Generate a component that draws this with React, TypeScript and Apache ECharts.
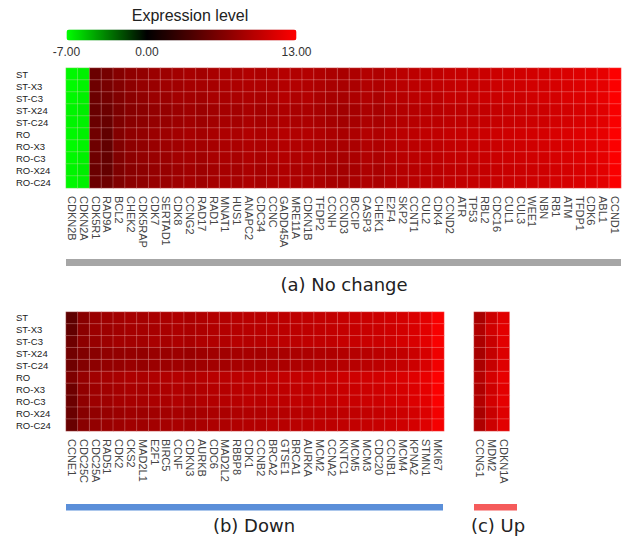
import React, { useEffect, useRef } from "react";
import * as echarts from "echarts";

const rows = ["ST", "ST-X3", "ST-C3", "ST-X24", "ST-C24", "RO", "RO-X3", "RO-C3", "RO-X24", "RO-C24"];

const noChangeGenes = ["CDKN2B", "CDKN2A", "CDK5R1", "RAD9A", "BCL2", "CHEK2", "CDK5RAP", "CDK7", "SERTAD1", "CDK8", "CCNG2", "RAD17", "RAD1", "MNAT1", "HUS1", "ANAPC2", "CDC34", "CCNC", "GADD45A", "MRE11A", "CDKN1B", "TFDP2", "CCNH", "CCND3", "BCCIP", "CASP3", "CHEK1", "E2F4", "SKP2", "CCNT1", "CUL2", "CDK4", "CCND2", "ATR", "TP53", "RBL2", "CDC16", "CUL1", "CUL3", "WEE1", "NBN", "RB1", "ATM", "TFDP1", "CDK6", "ABL1", "CCND1"];

const downGenes = ["CCNE1", "CDC25C", "CDC25A", "RAD51", "CDK2", "CKS2", "MAD2L1", "E2F1", "BIRC5", "CCNF", "CDKN3", "AURKB", "CDC6", "MAD2L2", "RBBP8", "CDK1", "CCNB2", "BRCA2", "GTSE1", "BRCA1", "AURKA", "MCM2", "CCNA2", "KNTC1", "MCM5", "MCM3", "CDC20", "CCNB1", "MCM4", "KPNA2", "STMN1", "MKI67"];

const upGenes = ["CCNG1", "MDM2", "CDKN1A"];

// values per row (ST ... RO-C24), one entry per gene
const noChangeValues = [
  [-6.8, -6.6, 5.4, 6.0, 6.8, 7.3, 7.5, 7.9, 8.0, 8.3, 8.5, 8.3, 8.6, 8.8, 8.7, 9.0, 8.8, 9.0, 9.2, 9.0, 9.1, 8.9, 8.7, 8.6, 8.8, 9.1, 8.9, 9.3, 9.5, 9.6, 9.8, 9.8, 10.0, 10.1, 10.2, 10.3, 10.4, 10.5, 10.6, 10.7, 10.8, 11.0, 11.1, 11.3, 11.5, 11.8, 12.9],
  [-6.9, -6.7, 5.6, 6.1, 6.7, 7.2, 7.6, 7.8, 8.1, 8.2, 8.4, 8.4, 8.5, 8.7, 8.8, 8.9, 8.9, 8.8, 9.1, 9.1, 9.0, 8.8, 8.6, 8.6, 8.7, 9.0, 8.9, 9.2, 9.4, 9.6, 9.7, 9.8, 9.9, 10.1, 10.1, 10.2, 10.4, 10.4, 10.5, 10.7, 10.7, 10.9, 11.0, 11.2, 11.5, 11.7, 12.8],
  [-6.8, -6.6, 5.5, 5.9, 6.6, 7.1, 7.4, 7.9, 7.9, 8.3, 8.3, 8.2, 8.6, 8.6, 8.7, 8.8, 8.7, 8.9, 9.2, 8.9, 9.1, 8.7, 8.5, 8.5, 8.8, 9.0, 8.7, 9.3, 9.3, 9.5, 9.8, 9.6, 10.0, 10.0, 10.2, 10.3, 10.3, 10.5, 10.4, 10.6, 10.8, 10.8, 11.1, 11.2, 11.4, 11.8, 12.9],
  [-6.7, -6.5, 5.3, 5.5, 6.3, 6.9, 7.1, 7.5, 7.6, 7.9, 8.1, 7.9, 8.2, 8.4, 8.3, 8.6, 8.4, 8.6, 8.8, 8.6, 8.7, 8.5, 8.3, 8.2, 8.4, 8.7, 8.5, 8.9, 9.1, 9.2, 9.4, 9.4, 9.6, 9.7, 9.8, 9.9, 10.0, 10.1, 10.2, 10.3, 10.4, 10.6, 10.7, 10.9, 11.1, 11.4, 12.6],
  [-6.7, -6.6, 5.4, 5.3, 6.4, 7.0, 7.2, 7.6, 7.7, 8.0, 8.2, 8.0, 8.3, 8.5, 8.4, 8.7, 8.5, 8.7, 8.9, 8.7, 8.8, 8.6, 8.4, 8.3, 8.5, 8.8, 8.6, 9.0, 9.2, 9.3, 9.5, 9.5, 9.7, 9.8, 9.9, 10.0, 10.1, 10.2, 10.3, 10.4, 10.5, 10.7, 10.8, 11.0, 11.2, 11.5, 12.7],
  [-6.8, -6.6, 5.7, 5.0, 6.7, 7.3, 7.5, 7.9, 8.0, 8.3, 8.5, 8.3, 8.6, 8.8, 8.7, 9.0, 8.8, 9.0, 9.2, 9.0, 9.1, 8.9, 8.7, 8.6, 8.8, 9.1, 8.9, 9.3, 9.5, 9.6, 9.8, 9.8, 10.0, 10.1, 10.2, 10.3, 10.4, 10.5, 10.6, 10.7, 10.8, 11.0, 11.1, 11.3, 11.5, 11.8, 12.9],
  [-6.9, -6.7, 5.6, 5.0, 6.6, 7.2, 7.4, 7.8, 8.0, 8.2, 8.4, 8.3, 8.5, 8.7, 8.7, 8.9, 8.8, 8.9, 9.1, 9.0, 9.0, 8.8, 8.6, 8.6, 8.7, 9.0, 8.9, 9.2, 9.4, 9.5, 9.7, 9.7, 9.9, 10.0, 10.2, 10.2, 10.3, 10.4, 10.5, 10.6, 10.8, 10.9, 11.0, 11.2, 11.4, 11.7, 12.8],
  [-6.8, -6.6, 5.6, 5.1, 6.6, 7.2, 7.5, 7.8, 7.9, 8.3, 8.4, 8.2, 8.6, 8.7, 8.6, 8.9, 8.7, 9.0, 9.1, 8.9, 9.1, 8.8, 8.6, 8.5, 8.7, 9.0, 8.8, 9.2, 9.4, 9.5, 9.7, 9.7, 9.9, 10.0, 10.1, 10.2, 10.3, 10.4, 10.5, 10.6, 10.7, 10.9, 11.0, 11.2, 11.4, 11.7, 12.8],
  [-6.7, -6.5, 5.4, 5.1, 6.4, 7.0, 7.2, 7.6, 7.7, 8.0, 8.2, 8.0, 8.3, 8.5, 8.4, 8.7, 8.5, 8.7, 8.9, 8.7, 8.8, 8.6, 8.4, 8.3, 8.5, 8.8, 8.6, 9.0, 9.2, 9.3, 9.5, 9.5, 9.7, 9.8, 9.9, 10.0, 10.1, 10.2, 10.3, 10.4, 10.5, 10.7, 10.8, 11.0, 11.2, 11.5, 12.7],
  [-6.8, -6.6, 5.5, 5.6, 6.5, 7.1, 7.3, 7.7, 7.8, 8.1, 8.3, 8.1, 8.4, 8.6, 8.5, 8.8, 8.6, 8.8, 9.0, 8.8, 8.9, 8.7, 8.5, 8.4, 8.6, 8.9, 8.7, 9.1, 9.3, 9.4, 9.6, 9.6, 9.8, 9.9, 10.0, 10.1, 10.2, 10.3, 10.4, 10.5, 10.6, 10.8, 10.9, 11.1, 11.3, 11.6, 12.8],
];

const downValues = [
  [4.8, 7.0, 7.8, 8.1, 8.3, 8.5, 8.4, 8.6, 8.7, 8.9, 8.7, 8.9, 9.1, 9.1, 9.3, 9.4, 9.4, 9.6, 9.6, 9.7, 9.8, 9.9, 9.9, 10.1, 10.2, 10.3, 10.4, 10.6, 10.8, 11.1, 11.6, 12.7],
  [5.0, 7.1, 7.9, 8.0, 8.2, 8.4, 8.4, 8.5, 8.6, 8.8, 8.7, 8.8, 9.0, 9.1, 9.2, 9.3, 9.4, 9.5, 9.5, 9.6, 9.7, 9.8, 9.9, 10.0, 10.1, 10.2, 10.3, 10.5, 10.7, 11.0, 11.5, 12.6],
  [5.6, 7.2, 7.7, 8.0, 8.3, 8.3, 8.3, 8.6, 8.5, 8.8, 8.6, 8.9, 9.0, 9.0, 9.3, 9.2, 9.3, 9.5, 9.6, 9.6, 9.8, 9.8, 9.8, 10.1, 10.1, 10.3, 10.3, 10.5, 10.8, 11.0, 11.6, 12.7],
  [5.8, 6.6, 7.0, 7.4, 7.5, 7.6, 7.5, 7.8, 7.8, 8.0, 7.8, 8.0, 8.2, 8.2, 8.4, 8.5, 8.4, 8.6, 8.6, 8.7, 8.8, 8.9, 8.9, 9.1, 9.2, 9.3, 9.5, 9.7, 9.9, 10.3, 10.9, 12.2],
  [5.7, 6.7, 7.2, 7.5, 7.6, 7.8, 7.6, 7.9, 7.9, 8.1, 7.9, 8.1, 8.3, 8.3, 8.5, 8.5, 8.5, 8.7, 8.7, 8.8, 8.9, 9.0, 9.0, 9.2, 9.3, 9.4, 9.6, 9.8, 10.0, 10.4, 11.0, 12.3],
  [6.4, 7.6, 8.2, 8.4, 8.6, 8.8, 8.7, 8.9, 9.0, 9.2, 9.0, 9.2, 9.4, 9.4, 9.6, 9.7, 9.7, 9.9, 9.9, 10.0, 10.1, 10.2, 10.2, 10.4, 10.5, 10.6, 10.7, 10.9, 11.1, 11.4, 11.9, 12.9],
  [5.6, 7.4, 8.0, 8.2, 8.4, 8.6, 8.5, 8.7, 8.8, 9.0, 8.8, 9.0, 9.2, 9.2, 9.4, 9.5, 9.5, 9.7, 9.7, 9.8, 9.9, 10.0, 10.0, 10.2, 10.3, 10.4, 10.5, 10.7, 10.9, 11.2, 11.7, 12.8],
  [5.5, 7.3, 8.0, 8.1, 8.4, 8.5, 8.5, 8.7, 8.7, 9.0, 8.7, 9.0, 9.1, 9.2, 9.3, 9.5, 9.4, 9.7, 9.6, 9.8, 9.8, 10.0, 9.9, 10.2, 10.2, 10.4, 10.4, 10.7, 10.8, 11.2, 11.6, 12.8],
  [5.4, 6.9, 7.4, 7.7, 7.9, 8.1, 8.0, 8.2, 8.3, 8.5, 8.3, 8.5, 8.7, 8.7, 8.9, 9.0, 9.0, 9.2, 9.2, 9.3, 9.4, 9.5, 9.5, 9.7, 9.8, 9.9, 10.0, 10.2, 10.4, 10.7, 11.2, 12.4],
  [5.3, 7.0, 7.5, 7.8, 8.0, 8.2, 8.1, 8.3, 8.4, 8.6, 8.4, 8.6, 8.8, 8.8, 9.0, 9.1, 9.1, 9.3, 9.3, 9.4, 9.5, 9.6, 9.6, 9.8, 9.9, 10.0, 10.1, 10.3, 10.5, 10.8, 11.3, 12.5],
];

const upValues = [
  [8.6, 10.4, 11.4],
  [9.0, 10.6, 11.6],
  [8.8, 10.2, 11.5],
  [8.5, 10.0, 11.2],
  [8.7, 10.1, 11.3],
  [9.2, 10.8, 11.8],
  [8.9, 10.5, 11.6],
  [9.1, 10.7, 11.7],
  [8.6, 10.2, 11.3],
  [8.9, 10.4, 11.5],
];

const scaleMin = -7;
const scaleMax = 13;
const legendTicks = [-7, 0, 13];

function toCells(matrix: number[][]) {
  const out: number[][] = [];
  matrix.forEach((row, r) => row.forEach((v, c) => out.push([c, r, v])));
  return out;
}

// colour ramp green -> black (at 0) -> red, one stop per unit
function ramp(): string[] {
  const stops: string[] = [];
  for (let v = scaleMin; v <= scaleMax; v++) {
    if (v <= 0) {
      const g = Math.round((255 * -v) / -scaleMin);
      stops.push(`rgb(0,${g},0)`);
    } else {
      const r = Math.round((255 * v) / scaleMax);
      stops.push(`rgb(${r},0,0)`);
    }
  }
  return stops;
}

const FONT = "'Liberation Sans', Arial, sans-serif";

export default function App() {
  const ref = useRef<HTMLDivElement>(null);
  useEffect(() => {
    if (!ref.current) return;
    const chart = echarts.init(ref.current, undefined, { renderer: "svg" });

    const xAxisBase = (gridIndex: number, data: string[]) => ({
      type: "category",
      gridIndex,
      data,
      axisLine: { show: false },
      axisTick: { show: false },
      splitLine: { show: false },
      axisLabel: {
        interval: 0,
        rotate: -90,
        margin: 8,
        fontSize: 11,
        color: "#444",
        fontFamily: FONT,
      },
    });
    const yAxisBase = (gridIndex: number, showLabel: boolean) => ({
      type: "category",
      gridIndex,
      data: rows,
      inverse: true,
      axisLine: { show: false },
      axisTick: { show: false },
      splitLine: { show: false },
      axisLabel: {
        show: showLabel,
        interval: 0,
        align: "left",
        margin: 50,
        fontSize: 9.5,
        color: "#222",
        fontFamily: FONT,
      },
    });
    const cellStyle = {
      borderColor: "rgba(255,215,215,0.45)",
      borderWidth: 0.6,
    };

    chart.setOption({
      animation: false,
      backgroundColor: "#ffffff",
      grid: [
        { left: 66, top: 68, width: 555, height: 120 },
        { left: 66, top: 312, width: 378, height: 119 },
        { left: 474, top: 312, width: 35.4, height: 119 },
        { left: 66.5, top: 29.5, width: 230, height: 11 },
      ],
      xAxis: [
        xAxisBase(0, noChangeGenes),
        xAxisBase(1, downGenes),
        xAxisBase(2, upGenes),
        {
          type: "value",
          gridIndex: 3,
          min: scaleMin,
          max: scaleMax,
          axisLine: { show: false },
          axisTick: { show: false },
          splitLine: { show: false },
          axisLabel: {
            customValues: legendTicks,
            formatter: (v: number) => v.toFixed(2),
            margin: 5,
            fontSize: 12,
            color: "#333",
            fontFamily: FONT,
          },
        },
      ],
      yAxis: [
        yAxisBase(0, true),
        yAxisBase(1, true),
        yAxisBase(2, false),
        { type: "value", gridIndex: 3, show: false, min: 0, max: 1 },
      ],
      visualMap: {
        type: "continuous",
        min: scaleMin,
        max: scaleMax,
        orient: "horizontal",
        left: 66.5,
        top: 29.5,
        itemWidth: 11,
        itemHeight: 230,
        padding: 0,
        calculable: false,
        hoverLink: false,
        showLabel: false,
        text: ["", ""],
        textGap: 0,
        seriesIndex: [0, 1, 2],
        inRange: { color: ramp() },
      },
      series: [
        { type: "heatmap", xAxisIndex: 0, yAxisIndex: 0, data: toCells(noChangeValues), itemStyle: cellStyle },
        { type: "heatmap", xAxisIndex: 1, yAxisIndex: 1, data: toCells(downValues), itemStyle: cellStyle },
        { type: "heatmap", xAxisIndex: 2, yAxisIndex: 2, data: toCells(upValues), itemStyle: cellStyle },
      ],
      graphic: [
        { type: "text", left: "auto", x: 190, y: 15, style: { text: "Expression level", x: 0, y: 0, align: "center", verticalAlign: "middle", fontSize: 16, fontFamily: FONT, fill: "#222" } },
        { type: "rect", shape: { x: 66, y: 259, width: 555, height: 7 }, style: { fill: "#a6a6a6" } },
        { type: "text", x: 344, y: 284, style: { text: "(a) No change", align: "center", verticalAlign: "middle", fontSize: 18, fontFamily: "'DejaVu Sans', sans-serif", fill: "#222" } },
        { type: "rect", shape: { x: 66, y: 504, width: 377, height: 6.5 }, style: { fill: "#5b8fd9" } },
        { type: "text", x: 254, y: 525, style: { text: "(b) Down", align: "center", verticalAlign: "middle", fontSize: 18, fontFamily: "'DejaVu Sans', sans-serif", fill: "#222" } },
        { type: "rect", shape: { x: 474, y: 504, width: 43, height: 6.5 }, style: { fill: "#f55b5b" } },
        { type: "text", x: 498, y: 525, style: { text: "(c) Up", align: "center", verticalAlign: "middle", fontSize: 18, fontFamily: "'DejaVu Sans', sans-serif", fill: "#222" } },
      ],
    });
    return () => chart.dispose();
  }, []);
  return <div ref={ref} style={{ position: "fixed", left: 0, top: 0, width: 627, height: 538 }} />;
}
